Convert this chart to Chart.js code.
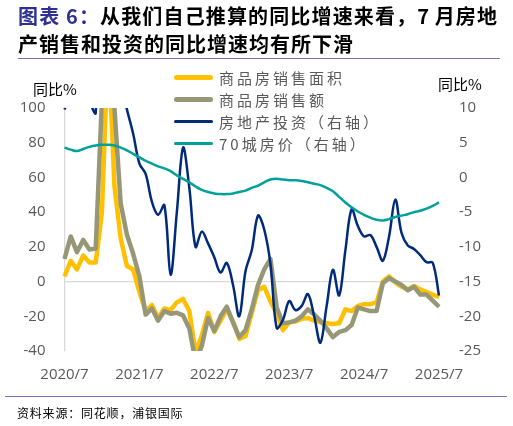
<!DOCTYPE html>
<html lang="zh-CN">
<head>
<meta charset="utf-8">
<title>房地产销售和投资同比增速</title>
<script src="https://cdn.jsdelivr.net/npm/chart.js@4.4.1/dist/chart.umd.min.js"></script>
<style>
  body { margin: 0; background: #fff; }
  #page { position: relative; width: 513px; height: 426px; overflow: hidden; font-family: "Noto Sans CJK SC", sans-serif; }
  #chart { position: absolute; left: 0; top: 0; }
  .title-line { position: absolute; left: 18px; font-size: 20px; font-weight: 700; line-height: 28px; color: #000; white-space: nowrap; }
  #title1 { top: 2px; width: 479px; text-align: justify; text-align-last: justify; text-justify: inter-character; }
  #title2 { top: 30px; letter-spacing: 1px; }
  .tag { color: #2E3192; }
  .rule { position: absolute; height: 0; border-top: 1px solid #7373B5; }
  .axis-title { position: absolute; font-size: 15px; color: #000; line-height: 16px; }
  #legend { position: absolute; left: 174px; top: 66px; }
  .lg-row { display: flex; align-items: center; height: 22px; }
  .lg-swatch { width: 39px; margin-right: 6px; border-radius: 3px; }
  .lg-text { font-size: 15px; color: #595959; letter-spacing: 3px; white-space: nowrap; }
  #source { position: absolute; left: 17px; top: 404px; font-size: 12px; color: #000; letter-spacing: 0.8px; }
</style>
</head>
<body>
<div id="page">
  <canvas id="chart" width="513" height="426"></canvas>
  <div class="title-line" id="title1"><span class="tag">图表 6：</span>从我们自己推算的同比增速来看，7 月房地</div>
  <div class="title-line" id="title2">产销售和投资的同比增速均有所下滑</div>
  <div class="rule" style="left:18px; top:58px; width:482px;"></div>
  <div class="axis-title" style="left:33px; top:81px;">同比%</div>
  <div class="axis-title" style="left:438px; top:76px;">同比%</div>
  <div id="legend"></div>
  <div class="rule" style="left:5px; top:396px; width:502px;"></div>
  <div id="source">资料来源：同花顺，浦银国际</div>
</div>

<script>
// months 2020/7 .. 2025/7
const months = [
  '2020/7', '2020/8', '2020/9', '2020/10', '2020/11', '2020/12',
  '2021/1', '2021/2', '2021/3', '2021/4', '2021/5', '2021/6',
  '2021/7', '2021/8', '2021/9', '2021/10', '2021/11', '2021/12',
  '2022/1', '2022/2', '2022/3', '2022/4', '2022/5', '2022/6',
  '2022/7', '2022/8', '2022/9', '2022/10', '2022/11', '2022/12',
  '2023/1', '2023/2', '2023/3', '2023/4', '2023/5', '2023/6',
  '2023/7', '2023/8', '2023/9', '2023/10', '2023/11', '2023/12',
  '2024/1', '2024/2', '2024/3', '2024/4', '2024/5', '2024/6',
  '2024/7', '2024/8', '2024/9', '2024/10', '2024/11', '2024/12',
  '2025/1', '2025/2', '2025/3', '2025/4', '2025/5', '2025/6',
  '2025/7'
];

// 商品房销售面积 (左轴, %)
const areaYoY = [
  3, 12, 7, 15, 11, 11,
  40, 140, 55, 25, 9, 7,
  -6, -17, -13.5, -21, -15.5, -16.5,
  -12, -10, -17, -41, -31, -18,
  -29, -22.5, -16, -23, -33, -31.5,
  -18, -5, -3, -11.5, -18.5, -28,
  -23.5, -23, -21.5, -21, -22.5, -23.5,
  -24, -24.5, -24, -16, -17, -14,
  -13, -13, -12, 0, 3, -0.5,
  -3, -4.5, -2.5, -4.5, -6, -7.5,
  -9
];

// 商品房销售额 (左轴, %)
const salesYoY = [
  13, 26, 17, 24, 18.5, 19,
  105, 175, 100, 45, 27, 16,
  3, -19, -15.5, -22.5, -17, -18.5,
  -18, -19.5, -27, -46, -37, -21,
  -28.5, -20, -14.5, -23.5, -32, -28,
  -16, -2, 7, 13, -15, -24,
  -23.5, -22.5, -20, -16, -19, -22.5,
  -27, -32, -29, -28, -25, -15,
  -16, -17, -17, -1, 2, 0,
  -2, -5, -3, -7.5, -7.5, -11,
  -14.5
];

// 房地产投资 (右轴, %)
const investYoY = [
  9.8, 11.8, 12, 12.7, 10.9, 9.3,
  38, 38, 25, 13.7, 9.8, 6.3,
  2, 0.5, -3.5, -5.4, -4, -14,
  -5, 4.3, -1.5, -10, -7.8, -9.5,
  -11.5, -13.7, -12.3, -15.5, -20, -13.5,
  -10.5, -5.5, -7.5, -12.5, -21.7, -20.5,
  -17.8, -19.1, -18.5, -16.8, -20, -23.8,
  -18.5, -13.3, -17, -10.5, -4.6, -7,
  -8.5, -8.3, -10, -12, -8.5, -3.2,
  -8, -9.8, -10.3, -11.2, -12.2, -12.3,
  -17
];

// 70城房价 (右轴, %)
const price70YoY = [
  4.3, 4.0, 3.8, 4.1, 4.4, 4.6,
  4.7, 4.7, 4.6, 4.3, 3.9, 3.4,
  2.9, 2.4, 2.0, 1.6, 1.3, 0.9,
  0.3, -0.2, -0.7, -1.3, -1.8, -2.1,
  -2.3, -2.4, -2.4, -2.3, -2.1, -1.9,
  -1.5, -1.2, -0.7, -0.3, -0.2, -0.3,
  -0.4, -0.4, -0.5, -0.7, -0.9, -1.1,
  -1.5, -2.0, -2.8, -3.6, -4.3, -4.9,
  -5.4, -5.8, -6.1, -6.2, -6.0, -5.7,
  -5.5, -5.3, -5.0, -4.8, -4.5, -4.1,
  -3.6
];

const leftTicks = [-40, -20, 0, 20, 40, 60, 80, 100];
const rightTicks = [-25, -20, -15, -10, -5, 0, 5, 10];

const tickFont = { family: 'Open Sans', size: 15 };
const tickColor = '#595959';

const ctx = document.getElementById('chart').getContext('2d');
const chart = new Chart(ctx, {
  type: 'line',
  data: {
    labels: months,
    datasets: [
      { label: '商品房销售面积', data: areaYoY, yAxisID: 'y', borderColor: '#FFC000', borderWidth: 4.5, tension: 0, order: 4 },
      { label: '商品房销售额', data: salesYoY, yAxisID: 'y', borderColor: '#979777', borderWidth: 4.5, tension: 0, order: 3 },
      { label: '房地产投资（右轴）', data: investYoY, yAxisID: 'y1', borderColor: '#002A7A', borderWidth: 2.5, tension: 0.35, order: 2 },
      { label: '70城房价（右轴）', data: price70YoY, yAxisID: 'y1', borderColor: '#00A19B', borderWidth: 2.5, tension: 0.4, order: 1 }
    ]
  },
  options: {
    responsive: false,
    animation: false,
    layout: { padding: { left: 14.5, right: 19, top: 108, bottom: 35 } },
    elements: {
      point: { radius: 0 },
      line: { borderJoinStyle: 'round', fill: false }
    },
    datasets: { line: { clip: { left: 3, right: 3, top: 0, bottom: 0 } } },
    plugins: {
      legend: { display: false },
      tooltip: { enabled: false }
    },
    scales: {
      x: {
        grid: { display: false, drawTicks: false },
        border: { display: false },
        ticks: {
          autoSkip: false,
          maxRotation: 0,
          padding: 15,
          font: tickFont,
          color: tickColor,
          callback: function(value, index) {
            const lab = months[index];
            return lab.endsWith('/7') ? lab : '';
          }
        },
        afterFit: function(scale) { scale.height = 40; }
      },
      y: {
        position: 'left',
        min: leftTicks[0],
        max: leftTicks[leftTicks.length - 1],
        grid: {
          drawTicks: false,
          color: c => c.tick && c.tick.value === 0 ? '#D9D9D9' : 'transparent',
          lineWidth: 1.3
        },
        border: { display: true, color: '#D9D9D9', width: 1.3 },
        ticks: { stepSize: leftTicks[1] - leftTicks[0], padding: 19, font: tickFont, color: tickColor },
        afterFit: function(scale) { scale.width = 50; }
      },
      y1: {
        position: 'right',
        min: rightTicks[0],
        max: rightTicks[rightTicks.length - 1],
        grid: { display: false, drawTicks: false },
        border: { display: false },
        ticks: { stepSize: rightTicks[1] - rightTicks[0], padding: 20, font: tickFont, color: tickColor },
        afterFit: function(scale) { scale.width = 55; }
      }
    }
  }
});

// legend drawn as html, in dataset order
const legendBox = document.getElementById('legend');
chart.data.datasets.forEach(ds => {
  const row = document.createElement('div');
  row.className = 'lg-row';
  const sw = document.createElement('div');
  sw.className = 'lg-swatch';
  sw.style.height = (ds.borderWidth + 0.5) + 'px';
  sw.style.background = ds.borderColor;
  const txt = document.createElement('span');
  txt.className = 'lg-text';
  txt.textContent = ds.label;
  row.appendChild(sw);
  row.appendChild(txt);
  legendBox.appendChild(row);
});
</script>
</body>
</html>
